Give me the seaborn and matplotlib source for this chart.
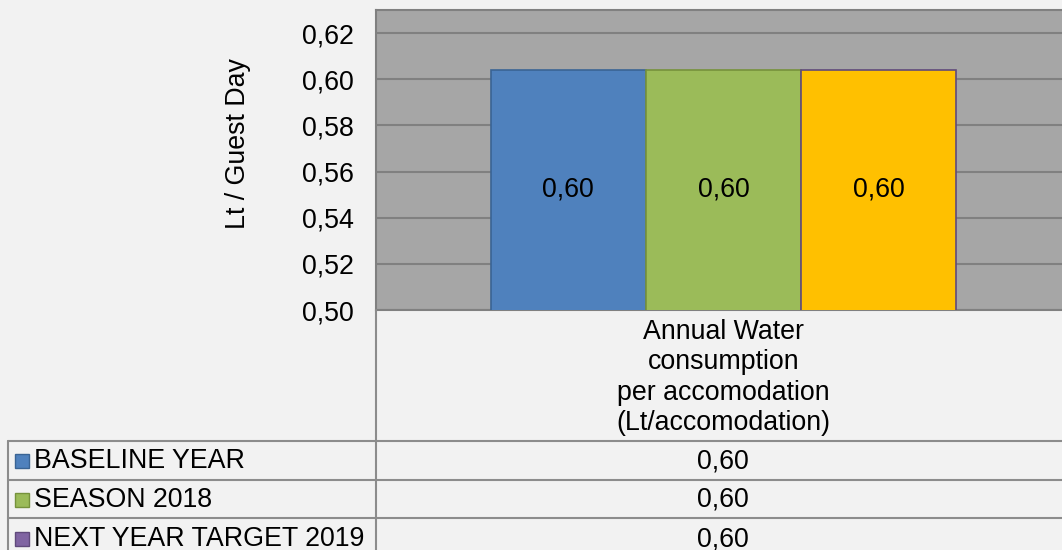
import matplotlib
matplotlib.use("Agg")
import matplotlib.pyplot as plt
from matplotlib.lines import Line2D
from matplotlib.patches import Rectangle
import pandas as pd
import seaborn as sns

# ── Data ──────────────────────────────────────────────────
categories = ["Annual Water\nconsumption\nper accomodation\n(Lt/accomodation)"]
series = ["BASELINE YEAR", "SEASON 2018", "NEXT YEAR TARGET 2019"]
values = [0.604, 0.604, 0.604]
bar_colors = ["#4f81bd", "#9bbb59", "#ffc000"]
edge_colors = ["#3a6494", "#76923c", "#604a7b"]
key_colors = ["#4f81bd", "#9bbb59", "#8064a2"]
y_ticks = [0.50, 0.52, 0.54, 0.56, 0.58, 0.60, 0.62]

df = pd.DataFrame({
    "category": categories * len(series),
    "series": series,
    "value": values,
})

sns.set_style("white")
plt.rcParams["font.family"] = ["Liberation Sans", "DejaVu Sans"]
plt.rcParams["text.color"] = "black"
plt.rcParams["xtick.color"] = "black"
plt.rcParams["ytick.color"] = "black"
FS = 19.3


def comma(v):
    return f"{v:.2f}".replace(".", ",")


W, H = 1062, 550
fig = plt.figure(figsize=(W / 100, H / 100), dpi=100, facecolor="#f2f2f2")

# plot area in pixel coords (right edge runs past the figure)
x0, x1, y0, y1 = 376, 1071, 310, 10
ax = fig.add_axes([x0 / W, 1 - y0 / H, (x1 - x0) / W, (y0 - y1) / H])
ax.set_facecolor("#a6a6a6")

sns.barplot(data=df, x="category", y="value", hue="series", saturation=1,
            palette=bar_colors, width=0.67, legend=False, ax=ax, zorder=3)
for patch, ec in zip(ax.patches, edge_colors):
    patch.set_edgecolor(ec)
    patch.set_linewidth(1.2)

for cont in ax.containers:
    ax.bar_label(cont, labels=[comma(v) for v in cont.datavalues],
                 label_type="center", fontsize=FS, color="black")

ax.set_xlim(-0.5, 0.5)
ax.set_ylim(0.50, 0.63)
ax.set_yticks(y_ticks)
ax.set_yticklabels([comma(t) for t in y_ticks], fontsize=FS)
ax.yaxis.grid(True, color="#808080", linewidth=1.5, zorder=0)
ax.set_axisbelow(True)
ax.tick_params(axis="y", length=0, pad=16)
ax.tick_params(axis="x", length=0, pad=6.5)
ax.set_xticks([0])
ax.set_xticklabels(categories, fontsize=FS, linespacing=1.22)
ax.set_xlabel("")
ax.set_ylabel("")
for s in ax.spines.values():
    s.set_color("#808080")
    s.set_linewidth(1.5)


# ── Data table below the chart ───────────────────────────
def fx(px):
    return px / W


def fy(py):
    return 1 - py / H


fig.text(fx(238), fy(144), "Lt / Guest Day", fontsize=FS, rotation=90,
         ha="center", va="center")

line_kw = dict(color="#8c8c8c", linewidth=1.5)
fig.add_artist(Line2D([fx(376), fx(376)], [fy(310), fy(550)], **line_kw))
fig.add_artist(Line2D([fx(8), fx(8)], [fy(441), fy(550)], **line_kw))
for py in [441, 480, 518]:
    fig.add_artist(Line2D([fx(8), fx(W)], [fy(py), fy(py)], **line_kw))

row_centers = [461, 500, 539]
for name, val, kc, ec, py in zip(series, values, key_colors, edge_colors, row_centers):
    fig.add_artist(Rectangle((fx(15), fy(py + 7)), 14 / W, 14 / H,
                             facecolor=kc, edgecolor=ec, linewidth=1))
    fig.text(fx(34), fy(py), name, fontsize=FS, va="center", ha="left")
    fig.text(fx(723), fy(py), comma(val), fontsize=FS, va="center", ha="center")

fig.savefig("out.png", dpi=100, facecolor=fig.get_facecolor())
